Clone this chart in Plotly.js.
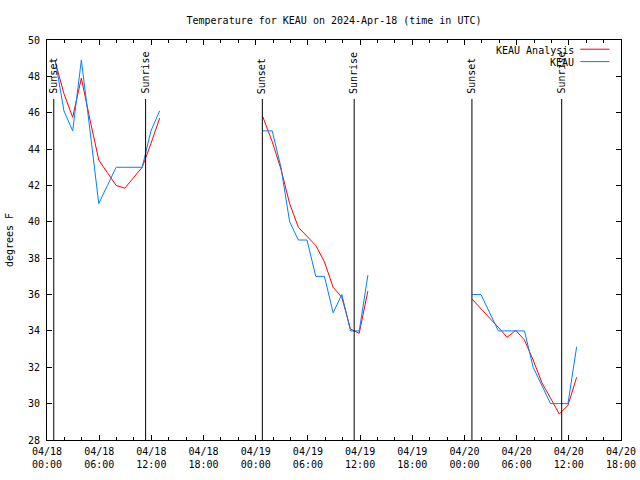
<!DOCTYPE html>
<html>
<head>
<meta charset="utf-8">
<script src="https://cdn.plot.ly/plotly-3.0.1.min.js"></script>
<style>html,body{margin:0;padding:0;background:#fff;}#chart{width:640px;height:480px;}</style>
</head>
<body>
<div id="chart"></div>
<script>
// Hours since 2024-04-18 00:00 UTC
const seg1Hours = [0.95, 1.95, 2.95, 3.95, 4.95, 5.95, 6.95, 7.95, 8.95, 9.95, 10.95, 11.95, 12.95];
const seg2Hours = [24.8, 25.9, 26.9, 27.9, 28.9, 29.9, 30.9, 31.9, 32.9, 33.9, 34.9, 35.9, 36.9];
const seg3Hours = [48.9, 49.9, 50.9, 51.9, 52.9, 53.9, 54.9, 55.9, 56.9, 57.9, 58.9, 59.9, 60.9];

const analysisSeg1 = [48.8, 47.05, 45.75, 47.9, 45.6, 43.4, 42.7, 42.0, 41.85, 42.45, 43.0, 44.3, 45.7];
const analysisSeg2 = [45.8, 44.4, 42.9, 41.0, 39.7, 39.2, 38.7, 37.8, 36.4, 35.85, 34.1, 33.87, 36.2];
const analysisSeg3 = [35.74, 35.2, 34.7, 34.2, 33.65, 34.03, 33.5, 32.4, 31.15, 30.3, 29.43, 29.9, 31.45];

const obsSeg1 = [48.9, 46.1, 45.0, 48.9, 45.0, 41.0, 42.0, 43.0, 43.0, 43.0, 43.0, 45.0, 46.1];
const obsSeg2 = [45.0, 45.0, 43.0, 40.0, 39.0, 39.0, 37.0, 37.0, 35.0, 36.0, 34.0, 34.0, 37.07];
const obsSeg3 = [36.0, 36.0, 35.0, 34.0, 34.0, 34.0, 34.0, 32.0, 31.0, 30.0, 30.0, 30.0, 33.13];

const sunEventHours = [0.78, 11.34, 24.76, 35.32, 48.86, 59.18];
const sunEventLabels = ["Sunset", "Sunrise", "Sunset", "Sunrise", "Sunset", "Sunrise"];
const sunLineTop = 46.76;

const xTickHours = [0, 6, 12, 18, 24, 30, 36, 42, 48, 54, 60, 66];
const xTickLabels = ["04/18<br>00:00", "04/18<br>06:00", "04/18<br>12:00", "04/18<br>18:00",
  "04/19<br>00:00", "04/19<br>06:00", "04/19<br>12:00", "04/19<br>18:00",
  "04/20<br>00:00", "04/20<br>06:00", "04/20<br>12:00", "04/20<br>18:00"];

const seriesNames = ["KEAU Analysis", "KEAU"];
const seriesColors = ["#ff0000", "#0080ff"];

function joinSegs(a, b, c) { return a.concat([null], b, [null], c); }
const hoursAll = joinSegs(seg1Hours, seg2Hours, seg3Hours);

const FONT = "DejaVu Sans Mono, Liberation Mono, monospace";

const traces = [
  { x: hoursAll, y: joinSegs(analysisSeg1, analysisSeg2, analysisSeg3), name: seriesNames[0],
    mode: "lines", line: { color: seriesColors[0], width: 1 }, connectgaps: false, showlegend: false },
  { x: hoursAll, y: joinSegs(obsSeg1, obsSeg2, obsSeg3), name: seriesNames[1],
    mode: "lines", line: { color: seriesColors[1], width: 1 }, connectgaps: false, showlegend: false }
];

const shapes = sunEventHours.map(h => ({
  type: "line", xref: "x", yref: "y", x0: h, x1: h, y0: 28, y1: sunLineTop,
  line: { color: "#000", width: 1 }, layer: "above"
}));

const annotations = sunEventHours.map((h, i) => ({
  x: h, y: sunLineTop, xref: "x", yref: "y", text: sunEventLabels[i],
  textangle: -90, showarrow: false, xanchor: "center", yanchor: "bottom", yshift: 3,
  font: { family: FONT, size: 10, color: "#000" }
}));

// legend (gnuplot-style: text right-aligned, sample line to its right)
const legendY = [0.974, 0.943];
seriesNames.forEach((n, i) => {
  annotations.push({ x: 0.922, y: legendY[i], xref: "paper", yref: "paper", text: n,
    showarrow: false, xanchor: "right", yanchor: "middle",
    font: { family: FONT, size: 10, color: "#000" } });
  shapes.push({ type: "line", xref: "paper", yref: "paper", x0: 0.929, x1: 0.980,
    y0: legendY[i] + 0.003, y1: legendY[i] + 0.003, line: { color: seriesColors[i], width: 1 } });
});

const layout = {
  width: 640, height: 480,
  margin: { l: 47, r: 19, t: 40, b: 40, pad: 0 },
  paper_bgcolor: "#fff", plot_bgcolor: "#fff",
  font: { family: FONT, size: 10, color: "#000" },
  title: { text: "Temperature for KEAU on 2024-Apr-18 (time in UTC)", x: 0.5, xref: "paper",
    y: 1 - 20 / 480, yref: "container", yanchor: "middle",
    font: { family: FONT, size: 10, color: "#000" } },
  xaxis: {
    range: [0, 66], tickmode: "array", tickvals: xTickHours, ticktext: xTickLabels,
    ticks: "inside", ticklen: 5, tickcolor: "#000", tickwidth: 1,
    showline: true, linecolor: "#000", linewidth: 1, mirror: "ticks",
    showgrid: false, zeroline: false, ticklabelstandoff: 2,
    minor: { tick0: 0, dtick: 2, ticks: "inside", ticklen: 3, tickcolor: "#000", showgrid: false },
    tickfont: { family: FONT, size: 10, color: "#000" }
  },
  yaxis: {
    range: [28, 50], tickmode: "linear", tick0: 28, dtick: 2,
    ticks: "inside", ticklen: 5, tickcolor: "#000", tickwidth: 1,
    showline: true, linecolor: "#000", linewidth: 1, mirror: "ticks",
    showgrid: false, zeroline: false, ticklabelstandoff: 4,
    tickfont: { family: FONT, size: 10, color: "#000" },
    title: { text: "degrees F", standoff: 12, font: { family: FONT, size: 10, color: "#000" } }
  },
  shapes: shapes,
  annotations: annotations
};

Plotly.newPlot("chart", traces, layout, { staticPlot: true, displayModeBar: false });
</script>
</body>
</html>
